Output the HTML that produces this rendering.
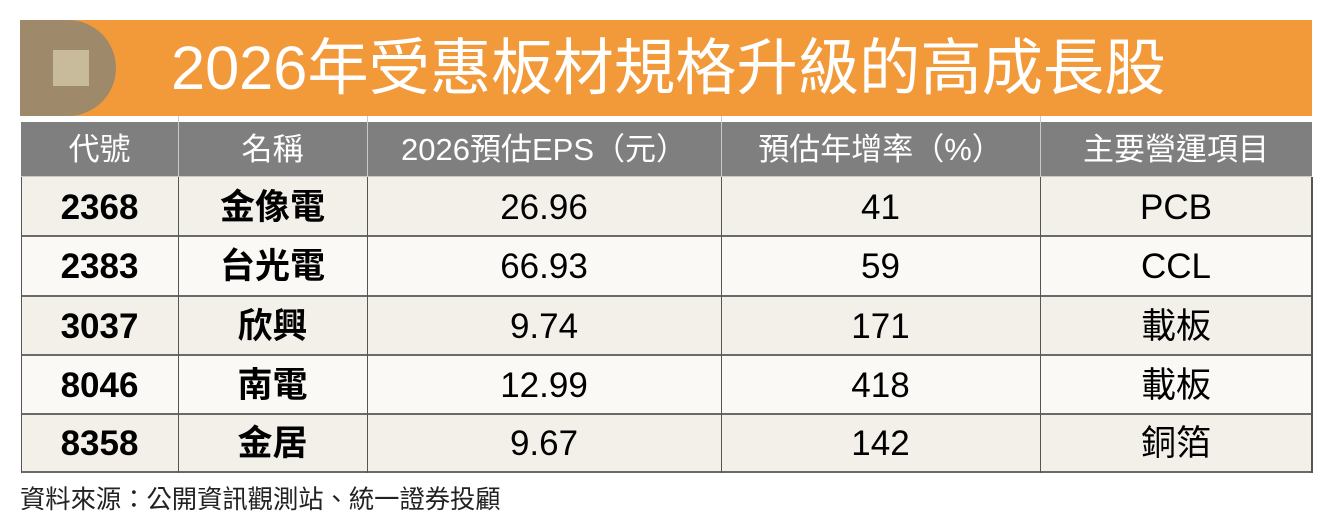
<!DOCTYPE html>
<html>
<head>
<meta charset="utf-8">
<style>
  html,body{margin:0;padding:0;background:#fff;}
  body{width:1333px;height:530px;position:relative;overflow:hidden;
       font-family:"Liberation Sans","Noto Sans CJK TC",sans-serif;}
  .abs{position:absolute;}
  .banner{left:20px;top:20px;width:1292px;height:96px;background:#f29a3a;}
  .badge{left:20px;top:20px;width:96px;height:96px;background:#9e8a6b;border-radius:0 48px 48px 0;}
  .sq{left:53px;top:50px;width:36px;height:36px;background:#c8bb9c;}
  .title{left:171px;top:20px;height:96px;line-height:96px;color:#fff;font-size:61.3px;
         font-family:"Liberation Sans","Noto Sans CJK TC",sans-serif;white-space:nowrap;letter-spacing:0px;}
  .hdr{left:21px;top:122px;width:1291px;height:55px;background:#7f7f7f;}
  .hsep{top:116px;height:61px;width:1px;background:#c9c9c9;}
  .hcell{top:122px;height:55px;line-height:55px;color:#fff;font-size:31px;text-align:center;white-space:nowrap;
         font-family:"Liberation Sans","Noto Sans CJK TC",sans-serif;}
  .row{left:21px;width:1291px;}
  .odd{background:#f3f0ea;}
  .even{background:#faf9f5;}
  .hline{left:21px;width:1292px;height:2px;background:#6a6a6a;}
  .vline{top:177px;height:296px;width:1px;background:#555;}
  .cell{text-align:center;color:#000;white-space:nowrap;font-size:35px;}
  .b{font-weight:bold;}
  .foot{left:20px;top:480px;font-size:25.3px;color:#222;white-space:nowrap;
        font-family:"Liberation Sans","Noto Sans CJK TC",sans-serif;}
</style>
</head>
<body>
  <div class="abs banner"></div>
  <div class="abs badge"></div>
  <div class="abs sq"></div>
  <div class="abs title">2026年受惠板材規格升級的高成長股</div>

  <div class="abs hdr"></div>
  <div class="abs hsep" style="left:178px"></div>
  <div class="abs hsep" style="left:367px"></div>
  <div class="abs hsep" style="left:721px"></div>
  <div class="abs hsep" style="left:1040px"></div>
  <div class="abs" style="left:21px;top:176px;width:1291px;height:1px;background:#c9c9c9"></div>

  <div class="abs hcell" style="left:21px;width:157px">代號</div>
  <div class="abs hcell" style="left:178px;width:189px">名稱</div>
  <div class="abs hcell" style="left:367px;width:354px">2026預估EPS（元）</div>
  <div class="abs hcell" style="left:721px;width:319px">預估年增率（%）</div>
  <div class="abs hcell" style="left:1040px;width:272px">主要營運項目</div>

  <!-- rows -->
  <div class="abs row odd" style="top:177px;height:59px"></div>
  <div class="abs row even" style="top:236px;height:60px"></div>
  <div class="abs row odd" style="top:296px;height:59px"></div>
  <div class="abs row even" style="top:355px;height:59px"></div>
  <div class="abs row odd" style="top:414px;height:58px"></div>

  <div class="abs hline" style="top:235px"></div>
  <div class="abs hline" style="top:295px"></div>
  <div class="abs hline" style="top:354px"></div>
  <div class="abs hline" style="top:413px"></div>
  <div class="abs hline" style="top:471px"></div>

  <div class="abs vline" style="left:21px"></div>
  <div class="abs vline" style="left:178px"></div>
  <div class="abs vline" style="left:367px"></div>
  <div class="abs vline" style="left:721px"></div>
  <div class="abs vline" style="left:1040px"></div>
  <div class="abs vline" style="left:1311px;width:2px"></div>

  <!-- row 1 -->
  <div class="abs cell b" style="left:21px;width:157px;top:177px;height:59px;line-height:61px">2368</div>
  <div class="abs cell b" style="left:178px;width:189px;top:177px;height:59px;line-height:61px">金像電</div>
  <div class="abs cell" style="left:367px;width:354px;top:177px;height:59px;line-height:61px">26.96</div>
  <div class="abs cell" style="left:721px;width:319px;top:177px;height:59px;line-height:61px">41</div>
  <div class="abs cell" style="left:1040px;width:272px;top:177px;height:59px;line-height:61px">PCB</div>

  <!-- row 2 -->
  <div class="abs cell b" style="left:21px;width:157px;top:236px;height:60px;line-height:62px">2383</div>
  <div class="abs cell b" style="left:178px;width:189px;top:236px;height:60px;line-height:62px">台光電</div>
  <div class="abs cell" style="left:367px;width:354px;top:236px;height:60px;line-height:62px">66.93</div>
  <div class="abs cell" style="left:721px;width:319px;top:236px;height:60px;line-height:62px">59</div>
  <div class="abs cell" style="left:1040px;width:272px;top:236px;height:60px;line-height:62px">CCL</div>

  <!-- row 3 -->
  <div class="abs cell b" style="left:21px;width:157px;top:296px;height:59px;line-height:61px">3037</div>
  <div class="abs cell b" style="left:178px;width:189px;top:296px;height:59px;line-height:61px">欣興</div>
  <div class="abs cell" style="left:367px;width:354px;top:296px;height:59px;line-height:61px">9.74</div>
  <div class="abs cell" style="left:721px;width:319px;top:296px;height:59px;line-height:61px">171</div>
  <div class="abs cell" style="left:1040px;width:272px;top:296px;height:59px;line-height:61px">載板</div>

  <!-- row 4 -->
  <div class="abs cell b" style="left:21px;width:157px;top:355px;height:59px;line-height:61px">8046</div>
  <div class="abs cell b" style="left:178px;width:189px;top:355px;height:59px;line-height:61px">南電</div>
  <div class="abs cell" style="left:367px;width:354px;top:355px;height:59px;line-height:61px">12.99</div>
  <div class="abs cell" style="left:721px;width:319px;top:355px;height:59px;line-height:61px">418</div>
  <div class="abs cell" style="left:1040px;width:272px;top:355px;height:59px;line-height:61px">載板</div>

  <!-- row 5 -->
  <div class="abs cell b" style="left:21px;width:157px;top:414px;height:58px;line-height:60px">8358</div>
  <div class="abs cell b" style="left:178px;width:189px;top:414px;height:58px;line-height:60px">金居</div>
  <div class="abs cell" style="left:367px;width:354px;top:414px;height:58px;line-height:60px">9.67</div>
  <div class="abs cell" style="left:721px;width:319px;top:414px;height:58px;line-height:60px">142</div>
  <div class="abs cell" style="left:1040px;width:272px;top:414px;height:58px;line-height:60px">銅箔</div>

  <div class="abs foot">資料來源：公開資訊觀測站、統一證券投顧</div>
</body>
</html>
